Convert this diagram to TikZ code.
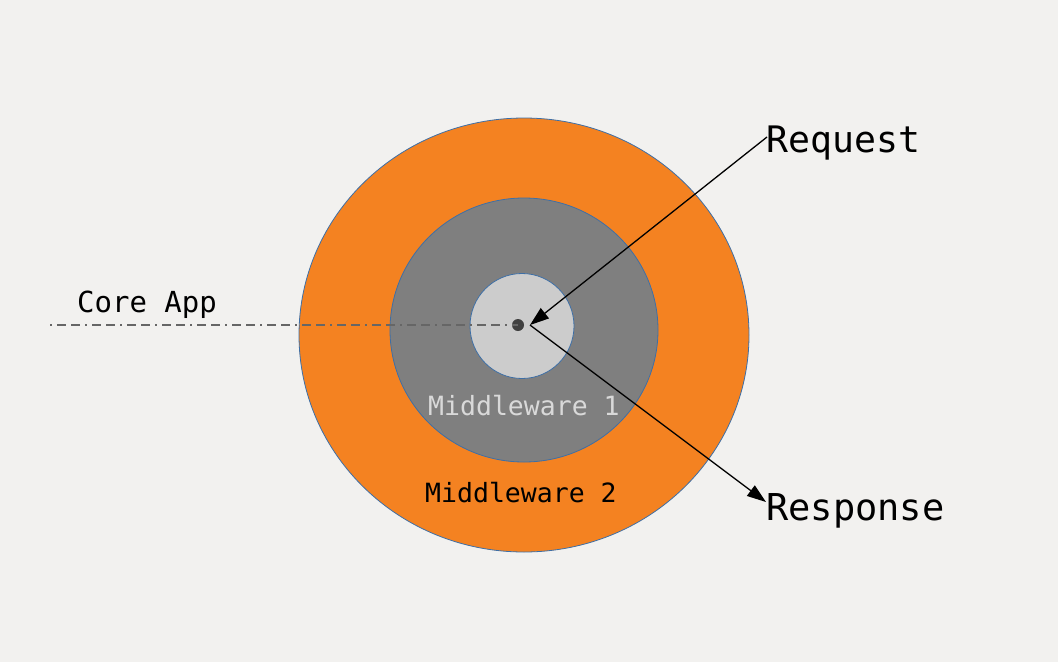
\documentclass[tikz,border=0pt]{standalone}
\usepackage{fontspec}
\setmonofont{DejaVu Sans Mono}
\usetikzlibrary{shapes.geometric,arrows.meta}
\definecolor{paperBg}{HTML}{F2F1EF}
\definecolor{ringOrange}{HTML}{F48221}
\definecolor{ringGray}{HTML}{7F7F7F}
\definecolor{coreGray}{HTML}{CCCCCC}
\definecolor{ringEdge}{HTML}{3E6FA6}
\definecolor{dotGray}{HTML}{404040}
\definecolor{axisGray}{HTML}{666666}
\definecolor{labelLight}{HTML}{D9D9D9}

\begin{document}
\begin{tikzpicture}[
    x=1pt, y=-1pt,
    RingShape/.style={ellipse, inner sep=0pt, draw=ringEdge, line width=0.8pt},
    LabelText/.style={anchor=base west, inner sep=0pt, font=\ttfamily},
    FlowArrow/.style={line width=1.3pt, draw=black,
        -{Triangle[length=19pt,width=13pt]}},
    AxisLine/.style={line width=1.6pt, draw=axisGray,
        dash pattern=on 2pt off 5pt on 9pt off 5pt on 9pt off 5pt}
]
\useasboundingbox [fill=paperBg] (0,0) rectangle (1058,662);

% rings
\node (ring2) [RingShape, fill=ringOrange, minimum width=450pt,
    minimum height=434pt] at (524,335) {};
\node (ring1) [RingShape, fill=ringGray, minimum width=268pt,
    minimum height=264pt] at (524,330) {};
\node (core) [RingShape, fill=coreGray, minimum width=104pt,
    minimum height=105pt] at (522,326) {};
\node (hub) [circle, fill=dotGray, minimum size=12pt, inner sep=0pt]
    at (518,325) {};

% labels
\node (coreLabel) [LabelText, font=\ttfamily\fontsize{29}{34}\selectfont]
    at (77,312) {Core App};
\node (mw1Label) [LabelText, text=labelLight,
    font=\ttfamily\fontsize{26.5}{32}\selectfont] at (428,415) {Middleware 1};
\node (mw2Label) [LabelText, font=\ttfamily\fontsize{26.5}{32}\selectfont]
    at (425,502) {Middleware 2};
\node (reqLabel) [LabelText, font=\ttfamily\fontsize{36.5}{42}\selectfont]
    at (766,152) {Request};
\node (resLabel) [LabelText, font=\ttfamily\fontsize{37}{42}\selectfont]
    at (766,520) {Response};

\coordinate (axisStart) at (50,325);
\coordinate (reqStart) at (767,137);
\coordinate (hubTip) at (530,325);
\coordinate (resEnd) at (766,502);

% connectors
\draw [AxisLine] (axisStart) -- (hub.center);
\draw [FlowArrow] (reqStart) -- (hubTip);
\draw [FlowArrow] (hubTip) -- (resEnd);
\end{tikzpicture}
\end{document}
